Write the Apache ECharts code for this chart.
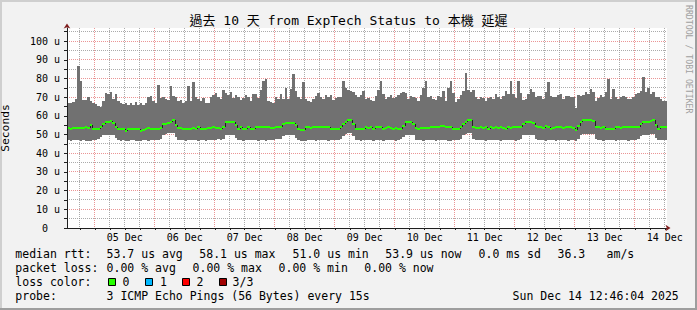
<!DOCTYPE html>
<html><head><meta charset="utf-8">
<script src="https://cdn.jsdelivr.net/npm/echarts@6/dist/echarts.min.js"></script>
<style>html,body{margin:0;padding:0;background:#f2f2f2}#c{width:697px;height:310px}</style>
</head><body><div id="c"></div>
<script>
// ---------------- data ----------------
const titleText = '過去 10 天 from ExpTech Status to 本機 延遲';
const yAxisName = 'Seconds';
const watermark = 'RRDTOOL / TOBI OETIKER';
const dayLabels = ['05 Dec','06 Dec','07 Dec','08 Dec','09 Dec','10 Dec','11 Dec','12 Dec','13 Dec','14 Dec'];
const dayLabelHours = [36,60,84,108,132,156,180,204,228,252]; // noon of each day, hours since 04 Dec 00:00
const firstHour = 13; // first hourly bar starts 04 Dec 13:00
// max ping (top of smoke), microseconds, one value per hour
const smokeTop = [
66.8,67,67.4,69,86.5,78.5,68.5,68.5,70,68,
67,66.5,65.5,65,68,72,71.5,73,69,71.5,
68,67,66.5,67,66,67,66,67.5,66,67,
66,67,70,70.5,68,67,76.5,69.5,70,69,
68.5,76,70.5,70,68,68.5,67,68,76,68,
78.3,70,69,68,69.5,67,67,70,71,72,
70,69,74,72,71,73,69.5,71,70,68.5,
69.5,71,70,68,71.5,71.5,69.5,74,78.8,79.5,
68,67.5,67,70,69,71.5,69,75,69,74.5,
82.4,73.5,70,69,78.3,69,68,67.2,69,70.5,
72,70,69,71,70,71,68.5,69.5,70,70,
78.8,75,74,73.5,72.5,71,70,71,73.5,69,
69.5,68.5,68,70.5,74,78.8,71.5,69,70,71,
69.5,70,71,72,72.5,72,69,70.5,70,69.5,
68,71,75,78.8,70,70.5,69,68.5,70.5,70,
73.4,68,75,78.8,72,67.5,69,71,73.4,82.9,
74,72.5,74,70,69,70,69.5,68,69.5,70,
69,71.5,70,69,70.5,73.4,71.5,78.8,71.7,69.5,
78.8,72,68.5,69,71.5,74.5,73,70,70.5,70.5,
69,73,77.9,70.5,70,70,71,71.5,69,70.5,
70.5,70,70,64,71,70.5,71,72.5,71.5,74.5,
73,68,69.5,71,70,73,79.7,69,74.5,70,
69,70,70.5,70,69,69,70,71.5,72,73.5,
80.6,73,75,71.5,72.5,70,70,69,68,68
];
// min ping (bottom of smoke)
const smokeLow = [
47,46.8,47,47.2,47,46.8,47,46.5,46.5,46.8,47,47,47.5,
48.5,49.5,49.8,49.8,49.8,49.5,48,
47,46.8,47,46.5,46.8,47,47,46.5,46.8,46.5,47,47,46.8,47,47.2,47,47,47.5,
50,50.5,51,51,51,48.5,
47,47,47.2,46.8,47,47,47.2,47,46.8,47,47,46.5,47,47.2,47,47,47.5,47,47.5,
49.5,49.5,49.5,49.5,48,
47,47,46.8,47,47,47.2,47,47,46.5,47,47,46.8,47,47.2,47,47.5,47.5,47.5,
49,49.8,49.8,49.8,49.8,48,
47,46.5,46.5,46.8,47,47,47,46.8,47,47.2,47,47,46.8,47,47,47.2,47,47.5,
49,50.5,51,51,49,
47,47,46.8,47,47,47.2,47,46.8,47,47,47,46.8,47,47.2,47,47,46.8,47,47.5,
48.5,50,50,50,49.5,
47,47,47,46.8,47,47.2,47,47,46.8,47,47,47.2,47,46.5,46.5,47,47,47,47.5,
49.5,50.5,51,51,
47.5,47,47,47.2,47,46.8,47,47,47.2,47,47,46.8,47,47,47.2,47,47,46.8,47,47.5,
49.5,50,50,50,50,
47.5,47,47,47.2,46.8,47,47,47,46.8,47,47,47.2,47,46.8,47,47,46.5,47.5,
49.5,50.5,50.5,50.5,50.5,50.5,
47.5,47,47,46.8,47,47.2,47,47,46.8,47,47.2,47,47,46.8,47,47.2,47,47.5,
49,49.5,50,50,50.5,50.5,
48,47,47,47.2,47
];
// median rtt
const median = [
53.5,53,53.5,53.5,53.5,53.6,53.5,53.8,53.5,55,
53,52.9,52.8,54,55.5,56.8,56.8,57,56,54,
52.9,52.8,52.9,52,52.9,52.9,52.9,52.9,52.9,52,
52.5,52.9,53.5,52.9,52.9,52.9,52.9,53.5,55.5,55.8,
56,56.5,57.6,55,53.5,53.5,53.2,53.2,53.2,53.2,
53.5,53.2,53.8,53.2,53.2,53,53.6,53.6,53.8,53.5,
53.5,53,54,56.5,56.8,56.8,56.8,55,53,54,
53.2,53.2,53.8,53.2,53.2,53.8,54.3,53.8,53.8,53.8,
53.8,53.5,53.5,53.8,53.8,53.8,55.5,56.1,56.1,56.1,
56.1,55,53,52.4,52.5,53.8,53.8,53.5,54,53.8,
54,54.3,53.8,54.3,54.3,53,53,53,53,54,
55.5,56.5,57.7,57.7,55.5,53,52.9,52.9,52.9,53.8,
53.5,53.8,53.2,54,53.8,54.3,53,53.5,53.8,53.5,
53.2,53.6,53.2,53.2,54.5,56.5,56.5,56.5,55.8,53.5,
53.2,53.5,53.5,53.5,53.5,54,54,53.8,54,54.5,
54.5,54,53.8,53.8,53,53,52.8,54,55.6,56.5,
57.9,57.9,54,53.5,53.5,53.8,53.5,53.8,53.2,53.8,
53.5,53.8,53.5,53.8,53.5,53.2,53.8,53.5,53.8,53.8,
54,53.8,55.5,56.5,56.5,56.5,56.3,54.5,53.8,53.8,
53.5,54.5,53.8,53,53.5,53.8,53.8,53.8,53.5,53.8,
54.3,53.8,53.5,52.4,54.5,56.5,57.7,57.7,57.7,57.7,
57.5,54,53.8,53.5,53.8,53.2,53,52.9,53.2,53.8,
54,53.5,54,53.8,54,54,53.8,54.3,53.8,55.5,
56.5,56.5,56.5,57.2,57.7,55,53.2,54,54,53.8
];
const rttLabel = 'median rtt:';
const rttStats = ['53.7 us avg','58.1 us max','51.0 us min','53.9 us now','0.0 ms sd','36.3','am/s'];
const lossLabel = 'packet loss:';
const lossStats = ['0.00 % avg','0.00 % max','0.00 % min','0.00 % now'];
const lossColorLabel = 'loss color:';
const lossLevels = ['0','1','2','3/3'];
const lossLevelColors = ['#26ff00','#00b8ff','#ff0000','#a00000'];
const probeLabel = 'probe:';
const probeText = '3 ICMP Echo Pings (56 Bytes) every 15s';
const stampText = 'Sun Dec 14 12:46:04 2025';

// ---------------- chart ----------------
const FONT = '"DejaVu Sans Mono", "Noto Sans CJK TC", monospace';
const GRID_C = 'rgba(143,143,143,0.75)';
const MGRID_C = 'rgba(222,79,79,0.6)';
const xMin = 12.9, xMax = 252.9, yMax = 107;
const minorHours = [], majorHours = [];
for (let h = 18; h <= 252; h += 6) (h % 24 === 0 ? majorHours : minorHours).push(h);
const yMinor = [], yMajor = [];
for (let v = 5; v <= 105; v += 5) (v % 10 === 0 ? yMajor : yMinor).push(v);

// grid lines: [value, kind] kind 0 = minor time, 1 = major time, 2 = minor value, 3 = major value
const gridData = [];
minorHours.forEach(h => gridData.push([h, 0]));
majorHours.forEach(h => gridData.push([h, 1]));
yMinor.forEach(v => gridData.push([v, 2]));
yMajor.forEach(v => gridData.push([v, 3]));

const bars = median.map((m, i) => [firstHour + i, smokeLow[i], smokeTop[i], m, i > 0 ? median[i - 1] : m]);

function renderSmoke(params, api) {
  const t = api.value(0), lo = api.value(1), hi = api.value(2);
  const a = api.coord([t, hi]), b = api.coord([t + 1, lo]);
  const x1 = Math.round(a[0]), x2 = Math.round(b[0]);
  const y1 = Math.round(a[1]), y2 = Math.round(b[1]);
  return { type: 'rect', shape: { x: x1, y: y1, width: x2 - x1, height: y2 - y1 }, style: { fill: '#717171' } };
}
function renderMedian(params, api) {
  const t = api.value(0), m = api.value(3), pm = api.value(4);
  const a = api.coord([t, m]), b = api.coord([t + 1, m]), p = api.coord([t, pm]);
  const x1 = Math.round(a[0]), x2 = Math.round(b[0]);
  const yc = Math.round(a[1]), yp = Math.round(p[1]);
  const children = [];
  if (yc !== yp) {
    children.push({ type: 'line', shape: { x1: x1 + 0.5, y1: yp, x2: x1 + 0.5, y2: yc }, style: { stroke: '#202020', lineWidth: 1 } });
  }
  children.push({ type: 'rect', shape: { x: x1, y: yc - 1, width: x2 - x1, height: 2 }, style: { fill: '#26ff00' } });
  return { type: 'group', children };
}
function renderGrid(params, api) {
  const v = api.value(0), kind = api.value(1);
  const cs = params.coordSys;
  const color = (kind % 2) ? MGRID_C : GRID_C;
  let shape;
  if (kind < 2) {
    const px = Math.floor(api.coord([v, 0])[0]) + 0.5;
    shape = { x1: px, y1: cs.y, x2: px, y2: cs.y + cs.height };
  } else {
    const py = Math.floor(api.coord([xMin, v])[1]) + 0.5;
    shape = { x1: cs.x, y1: py, x2: cs.x + cs.width, y2: py };
  }
  return { type: 'line', shape, style: { stroke: color, lineWidth: 1, lineDash: [1, 1] } };
}

const txt = (x, y, text, extra) => Object.assign({ type: 'text', x, y, silent: true,
  style: Object.assign({ text, fontFamily: FONT, fontSize: 11.5, fill: '#000', verticalAlign: 'middle', align: 'left' }, extra || {}) });

const graphic = [
  { type: 'rect', shape: { x: 0, y: 0, width: 697, height: 2 }, style: { fill: '#cfcfcf' }, silent: true },
  { type: 'rect', shape: { x: 0, y: 0, width: 2, height: 310 }, style: { fill: '#cfcfcf' }, silent: true },
  { type: 'rect', shape: { x: 0, y: 308, width: 697, height: 2 }, style: { fill: '#9e9e9e' }, silent: true },
  { type: 'rect', shape: { x: 695, y: 0, width: 2, height: 310 }, style: { fill: '#9e9e9e' }, silent: true },
  Object.assign(txt(688.8, 5, watermark, { fontSize: 8.2, fill: '#a0a0a0' }), { rotation: -Math.PI / 2 }),
  txt(15.3, 253.8, rttLabel),
  txt(15.3, 267.8, lossLabel),
  txt(15.3, 281.8, lossColorLabel),
  txt(15.3, 296.2, probeLabel),
  txt(106.6, 296.2, probeText),
  txt(512.6, 296.2, stampText)
];
const rttX = [106.6, 199.3, 292.6, 385.3, 478.6, 557.6, 606.6];
rttStats.forEach((s, i) => graphic.push(txt(rttX[i], 253.8, s)));
const lossX = [106.6, 192.6, 278.6, 364.3];
lossStats.forEach((s, i) => graphic.push(txt(lossX[i], 267.8, s)));
const boxX = [108.5, 145.5, 182.5, 219.5];
const lvlX = [122.6, 160, 196.6, 232.6];
lossLevels.forEach((s, i) => {
  graphic.push({ type: 'rect', silent: true, shape: { x: boxX[i], y: 278.5, width: 7, height: 7 }, style: { fill: lossLevelColors[i], stroke: '#000', lineWidth: 1 } });
  graphic.push(txt(lvlX[i], 281.8, s));
});

const option = {
  animation: false,
  backgroundColor: '#f2f2f2',
  title: { text: titleText, left: 'center', top: 14, padding: 0,
    textStyle: { fontFamily: FONT, fontSize: 13, fontWeight: 'normal', color: '#000' } },
  grid: { left: 67, top: 28, width: 600, height: 200, show: true, backgroundColor: '#ffffff', borderWidth: 0, containLabel: false, outerBoundsMode: 'none' },
  xAxis: [{
    type: 'value', min: xMin, max: xMax, z: 10, position: 'bottom',
    axisLine: { show: true, onZero: false, lineStyle: { color: '#1f1f1f', width: 1 } },
    axisTick: { show: true, customValues: minorHours.concat(majorHours).sort((a, b) => a - b), length: 2, lineStyle: { color: '#1f1f1f', width: 1 } },
    axisLabel: { show: true, customValues: dayLabelHours, margin: 4, fontFamily: FONT, fontSize: 10, color: '#000',
      formatter: v => dayLabels[dayLabelHours.indexOf(Math.round(v))] || '' },
    splitLine: { show: false }
  }, {
    type: 'value', min: xMin, max: xMax, z: 11, position: 'bottom',
    axisLine: { show: true, onZero: false, symbol: ['none', 'arrow'], symbolSize: [5, 5], symbolOffset: [0, 3.5], lineStyle: { color: '#801f1f', opacity: 0 } },
    axisTick: { show: false }, axisLabel: { show: false }, splitLine: { show: false }
  }],
  yAxis: [{
    type: 'value', min: 0, max: yMax, interval: 10, z: 10, position: 'left',
    name: yAxisName, nameLocation: 'middle', nameGap: 56, nameRotate: 90,
    nameTextStyle: { fontFamily: FONT, fontSize: 11.3, color: '#000' },
    axisLine: { show: true, onZero: false, lineStyle: { color: '#1f1f1f', width: 1 } },
    axisTick: { show: true, customValues: [0].concat(yMinor, yMajor).sort((a, b) => a - b), length: 3, lineStyle: { color: '#1f1f1f', width: 1 } },
    axisLabel: { show: true, margin: 7, fontFamily: FONT, fontSize: 10, color: '#000',
      formatter: v => (v % 10 === 0 && v <= 100) ? (v === 0 ? '0\u00a0\u00a0' : v + ' u') : '' },
    splitLine: { show: false }
  }, {
    type: 'value', min: 0, max: yMax, z: 11, position: 'left',
    axisLine: { show: true, onZero: false, symbol: ['none', 'arrow'], symbolSize: [5, 5], symbolOffset: [0, 4.5], lineStyle: { color: '#801f1f', opacity: 0 } },
    axisTick: { show: false }, axisLabel: { show: false }, splitLine: { show: false }
  }],
  series: [
    { type: 'custom', name: 'grid', renderItem: renderGrid, data: gridData, encode: { x: 0 }, clip: false, z: 1, silent: true },
    { type: 'custom', name: 'smoke', renderItem: renderSmoke, data: bars, encode: { x: 0, y: [1, 2] }, clip: true, z: 2, silent: true },
    { type: 'custom', name: 'median', renderItem: renderMedian, data: bars, encode: { x: 0, y: 3 }, clip: true, z: 3, silent: true }
  ],
  graphic
};

const chart = echarts.init(document.getElementById('c'), null, { renderer: 'svg', width: 697, height: 310 });
chart.setOption(option);
</script>
</body></html>
